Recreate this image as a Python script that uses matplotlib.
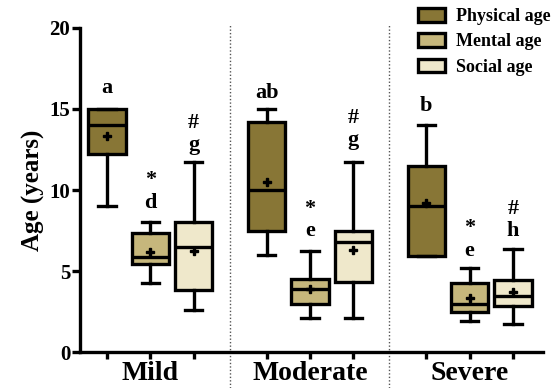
import matplotlib
matplotlib.use("Agg")
import matplotlib.pyplot as plt
from matplotlib.patches import Patch

plt.rcParams["font.family"] = ["Liberation Serif", "DejaVu Serif"]
plt.rcParams["font.weight"] = "bold"

# ---------------------------------------------------------------------------
# Data
# ---------------------------------------------------------------------------
groups  = ["Mild", "Moderate", "Severe"]
series  = ["Physical age", "Mental age", "Social age"]
colors  = ["#887636", "#c6b77c", "#efe8cb"]

# per group: [physical, mental, social]
whislo  = [[9.0, 4.25, 2.6],   [6.0, 2.1, 2.1],   [5.95, 1.95, 1.75]]
q1      = [[12.2, 5.45, 3.85], [7.45, 3.0, 4.35], [5.95, 2.5, 2.85]]
med     = [[14.0, 5.9, 6.5],   [10.0, 3.9, 6.8],  [9.0, 3.0, 3.5]]
q3      = [[15.0, 7.35, 8.05], [14.2, 4.5, 7.45], [11.45, 4.3, 4.45]]
whishi  = [[15.0, 8.05, 11.75],[15.0, 6.27, 11.75],[14.0, 5.2, 6.4]]
means   = [[13.3, 6.2, 6.25],  [10.5, 3.9, 6.3],  [9.2, 3.35, 3.7]]

# significance labels above each box (top line, bottom line)
sig_top = [["", "*", "#"], ["", "*", "#"], ["", "*", "#"]]
sig_bot = [["a", "d", "g"], ["ab", "e", "g"], ["b", "e", "h"]]
sig_y   = [[16.3, 9.2, 12.75], [16.0, 7.45, 13.1], [15.2, 6.25, 7.5]]

# ---------------------------------------------------------------------------
# Plot
# ---------------------------------------------------------------------------
fig = plt.figure(figsize=(5.56, 3.88), dpi=100)
ax = fig.add_axes([0.144, 0.0915, 0.833, 0.8375])

group_base = [1.0, 4.69, 8.37]
lw = 2.4

for g in range(3):
    for s in range(3):
        pos = group_base[g] + s
        stats = [{
            "med": med[g][s], "q1": q1[g][s], "q3": q3[g][s],
            "whislo": whislo[g][s], "whishi": whishi[g][s],
            "mean": means[g][s], "fliers": [],
        }]
        ax.bxp(stats, positions=[pos], widths=0.86, patch_artist=True,
               showmeans=True, showfliers=False,
               boxprops=dict(facecolor=colors[s], edgecolor="black", linewidth=lw),
               medianprops=dict(color="black", linewidth=lw),
               whiskerprops=dict(color="black", linewidth=lw),
               capprops=dict(color="black", linewidth=lw),
               capwidths=0.4,
               meanprops=dict(marker="P", markerfacecolor="black",
                              markeredgecolor="black", markersize=6))
        y = sig_y[g][s]
        ax.text(pos, y, sig_bot[g][s], ha="center", va="center",
                fontsize=16, fontweight="bold")
        if sig_top[g][s]:
            dy = 1.4 if sig_top[g][s] == "*" else 1.35
            ax.text(pos, y + dy, sig_top[g][s], ha="center", va="center",
                    fontsize=16, fontweight="bold")

# dotted separators between groups
for xs in [3.84, 7.52]:
    ax.plot([xs, xs], [-0.11, 1.01], transform=ax.get_xaxis_transform(),
            color="#555555", linestyle=(0, (1, 1.5)), linewidth=1.0,
            clip_on=False)

ax.set_xlim(0.38, 11.07)
ax.set_ylim(0, 20)
ax.set_yticks([0, 5, 10, 15, 20])
positions = [b + s for b in group_base for s in range(3)]
ax.set_xticks(positions)
ax.set_xticklabels([])
for g, name in enumerate(groups):
    ax.text(group_base[g] + 1, -0.065, name, transform=ax.get_xaxis_transform(),
            ha="center", va="center", fontsize=20, fontweight="bold")

ax.set_ylabel("Age (years)", fontsize=18, fontweight="bold", labelpad=3)
for side in ["top", "right"]:
    ax.spines[side].set_visible(False)
for side in ["left", "bottom"]:
    ax.spines[side].set_linewidth(2.4)
ax.tick_params(axis="y", width=2.4, length=6, labelsize=15, pad=1)
ax.tick_params(axis="x", width=2.4, length=5)

handles = [Patch(facecolor=c, edgecolor="black", linewidth=2.4) for c in colors]
fig.legend(handles, series, loc="upper left", frameon=False,
           bbox_to_anchor=(418 / 556, 1 - 8 / 388), bbox_transform=fig.transFigure,
           borderpad=0, borderaxespad=0, handlelength=1.5,
           handleheight=0.8, handletextpad=0.6, labelspacing=0.45,
           prop=dict(weight="bold", size=13))

fig.savefig("out.png", dpi=100)
